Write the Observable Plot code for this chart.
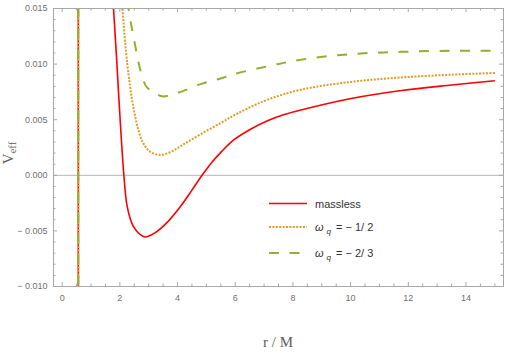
<!DOCTYPE html>
<html><head><meta charset="utf-8">
<script src="https://cdn.jsdelivr.net/npm/d3@7"></script>
<script src="https://cdn.jsdelivr.net/npm/@observablehq/plot@0.6"></script>
<style>
html,body{margin:0;padding:0;background:#fff;}
#chart{width:505px;height:353px;}
</style></head><body><div id="chart"></div>
<script>
// ---- data ----
const seriesNames = ["massless", "ωq = −1/2", "ωq = −2/3"];
const poleR = 0.56;

const rMassless = [1.70, 1.78, 1.89, 2.01, 2.14, 2.24, 2.36, 2.47, 2.65, 2.88, 3.20, 3.64, 4.10, 4.50, 4.85, 5.20, 5.55, 5.96, 6.50, 7.12, 7.70, 8.28, 10.02, 11.76, 13.51, 15.00];
const vMassless = [0.0188, 0.0150, 0.0104, 0.0050, 0.0000, -0.0026, -0.0039, -0.0046, -0.0052, -0.00555, -0.0052, -0.00423, -0.0028, -0.00133, 0.0000, 0.0012, 0.0022, 0.0032, 0.0041, 0.0049, 0.00546, 0.00587, 0.0069, 0.00762, 0.00812, 0.0085];

const rQ12 = [2.00, 2.09, 2.25, 2.47, 2.71, 2.88, 3.06, 3.40, 3.80, 4.22, 4.80, 5.49, 5.96, 6.50, 7.12, 8.28, 10.02, 11.76, 13.51, 15.00];
const vQ12 = [0.0180, 0.0150, 0.0102, 0.0061, 0.0035, 0.0026, 0.0021, 0.00183, 0.00215, 0.0028, 0.0037, 0.0047, 0.0054, 0.0061, 0.0068, 0.0077, 0.0084, 0.0088, 0.00905, 0.0092];

const rQ23 = [2.18, 2.30, 2.47, 2.77, 2.94, 3.17, 3.46, 3.99, 4.80, 5.49, 5.96, 7.12, 8.28, 10.02, 11.76, 13.51, 15.00];
const vQ23 = [0.0175, 0.0150, 0.0125, 0.0089, 0.0079, 0.0075, 0.0071, 0.0074, 0.0082, 0.0087, 0.0091, 0.0098, 0.0104, 0.0109, 0.0111, 0.0112, 0.0112];

const xTickValues = [0, 2, 4, 6, 8, 10, 12, 14];
const xTickLabels = ["0", "2", "4", "6", "8", "10", "12", "14"];
const xMinorTicks = [0.5, 1, 1.5, 2.5, 3, 3.5, 4.5, 5, 5.5, 6.5, 7, 7.5, 8.5, 9, 9.5, 10.5, 11, 11.5, 12.5, 13, 13.5, 14.5, 15];
const yTickValues = [-0.010, -0.005, 0.000, 0.005, 0.010, 0.015];
const yTickLabels = ["− 0.010", "− 0.005", "0.000", "0.005", "0.010", "0.015"];
const yMinorTicks = [-0.009, -0.008, -0.007, -0.006, -0.004, -0.003, -0.002, -0.001, 0.001, 0.002, 0.003, 0.004, 0.006, 0.007, 0.008, 0.009, 0.011, 0.012, 0.013, 0.014];
const xAxisLabel = "r / M";

// ---- styles / layout ----
const W = 505, H = 353, mL = 53, mR = 2, mT = 8, mB = 67;
const pW = W - mL - mR, pH = H - mT - mB;
const styles = [
  {stroke: "#ff0000", strokeWidth: 1.6, dash: null},
  {stroke: "#e19c24", strokeWidth: 2, dash: "2,1.4"},
  {stroke: "#8fb032", strokeWidth: 2, dash: "10,10.5"}
];
const frameColor = "#a8a8a8";
const rows = (r, v) => r.map((x, i) => ({r: x, v: v[i]}));
const series = [rows(rMassless, vMassless), rows(rQ12, vQ12), rows(rQ23, vQ23)];

const marks = [
  Plot.ruleY([0], {stroke: "#b5b5b5", strokeWidth: 1})
];
series.forEach((d, i) => {
  const s = styles[i];
  marks.push(Plot.ruleX([poleR], {stroke: s.stroke, strokeWidth: s.strokeWidth, strokeDasharray: s.dash, strokeLinecap: "butt"}));
});
series.forEach((d, i) => {
  const s = styles[i];
  marks.push(Plot.line(d, {x: "r", y: "v", stroke: s.stroke, strokeWidth: s.strokeWidth, strokeDasharray: s.dash,
    strokeLinecap: "butt", curve: "catmull-rom", clip: true}));
});
marks.push(
  Plot.frame({stroke: frameColor, strokeWidth: 1}),
  // inward ticks on all four sides
  Plot.ruleX(xTickValues, {stroke: frameColor, insetTop: pH - 4}),
  Plot.ruleX(xTickValues, {stroke: frameColor, insetBottom: pH - 4}),
  Plot.ruleX(xMinorTicks, {stroke: frameColor, insetTop: pH - 2.5}),
  Plot.ruleX(xMinorTicks, {stroke: frameColor, insetBottom: pH - 2.5}),
  Plot.ruleY(yTickValues, {stroke: frameColor, insetRight: pW - 4}),
  Plot.ruleY(yTickValues, {stroke: frameColor, insetLeft: pW - 4}),
  Plot.ruleY(yMinorTicks, {stroke: frameColor, insetRight: pW - 2.5}),
  Plot.ruleY(yMinorTicks, {stroke: frameColor, insetLeft: pW - 2.5}),
  Plot.axisX({ticks: xTickValues, tickSize: 0, tickPadding: 8, label: null,
    tickFormat: d => xTickLabels[xTickValues.indexOf(d)]}),
  Plot.axisY({ticks: yTickValues, tickSize: 0, tickPadding: 6, label: null,
    tickFormat: d => yTickLabels[yTickValues.indexOf(d)]})
);

const plot = Plot.plot({
  width: W, height: H,
  marginLeft: mL, marginRight: mR, marginTop: mT, marginBottom: mB,
  x: {domain: [-0.3, 15.3]},
  y: {domain: [-0.010, 0.015]},
  style: {fontFamily: "'Liberation Sans', Arial, sans-serif", fontSize: "9px", color: "#707070", background: "#fff"},
  marks
});

const svg = d3.select(plot);
// x axis title
svg.append("text")
  .attr("x", 278).attr("y", 347)
  .attr("text-anchor", "middle")
  .attr("font-family", "'Liberation Serif', 'Times New Roman', serif")
  .attr("font-size", 15).attr("fill", "#606060")
  .text(xAxisLabel);
// y axis title V_eff
const yt = svg.append("text")
  .attr("transform", "translate(13,153) rotate(-90)")
  .attr("text-anchor", "middle")
  .attr("font-family", "'Liberation Serif', 'Times New Roman', serif")
  .attr("font-size", 15).attr("fill", "#606060");
yt.append("tspan").text("V");
yt.append("tspan").attr("font-size", 10.5).attr("dy", 3).text("eff");

// legend
const legX1 = 269, legX2 = 307, legTx = 315;
const legY = [203.5, 227, 253];
const lg = svg.append("g").attr("font-family", "'Liberation Sans', Arial, sans-serif").attr("font-size", 11)
  .attr("fill", "#333").attr("text-anchor", "start");
seriesNames.forEach((name, i) => {
  const s = styles[i];
  lg.append("line").attr("x1", legX1).attr("x2", legX2).attr("y1", legY[i]).attr("y2", legY[i])
    .attr("stroke", s.stroke).attr("stroke-width", s.strokeWidth)
    .attr("stroke-dasharray", s.dash).attr("stroke-linecap", "butt");
  const t = lg.append("text").attr("x", legTx).attr("y", legY[i] + 4).attr("text-anchor", "start");
  if (i === 0) {
    t.text(name);
  } else {
    const m = name.match(/^ωq = −(\d)\/(\d)$/);
    t.append("tspan").attr("font-style", "italic").text("ω");
    t.append("tspan").attr("font-style", "italic").attr("font-size", 8).attr("dx", 3).attr("dy", 3).text("q");
    t.append("tspan").attr("dx", 5).attr("dy", -3).text(`= − ${m[1]}/ ${m[2]}`);
  }
});

document.getElementById("chart").appendChild(plot);
</script>
</body></html>
